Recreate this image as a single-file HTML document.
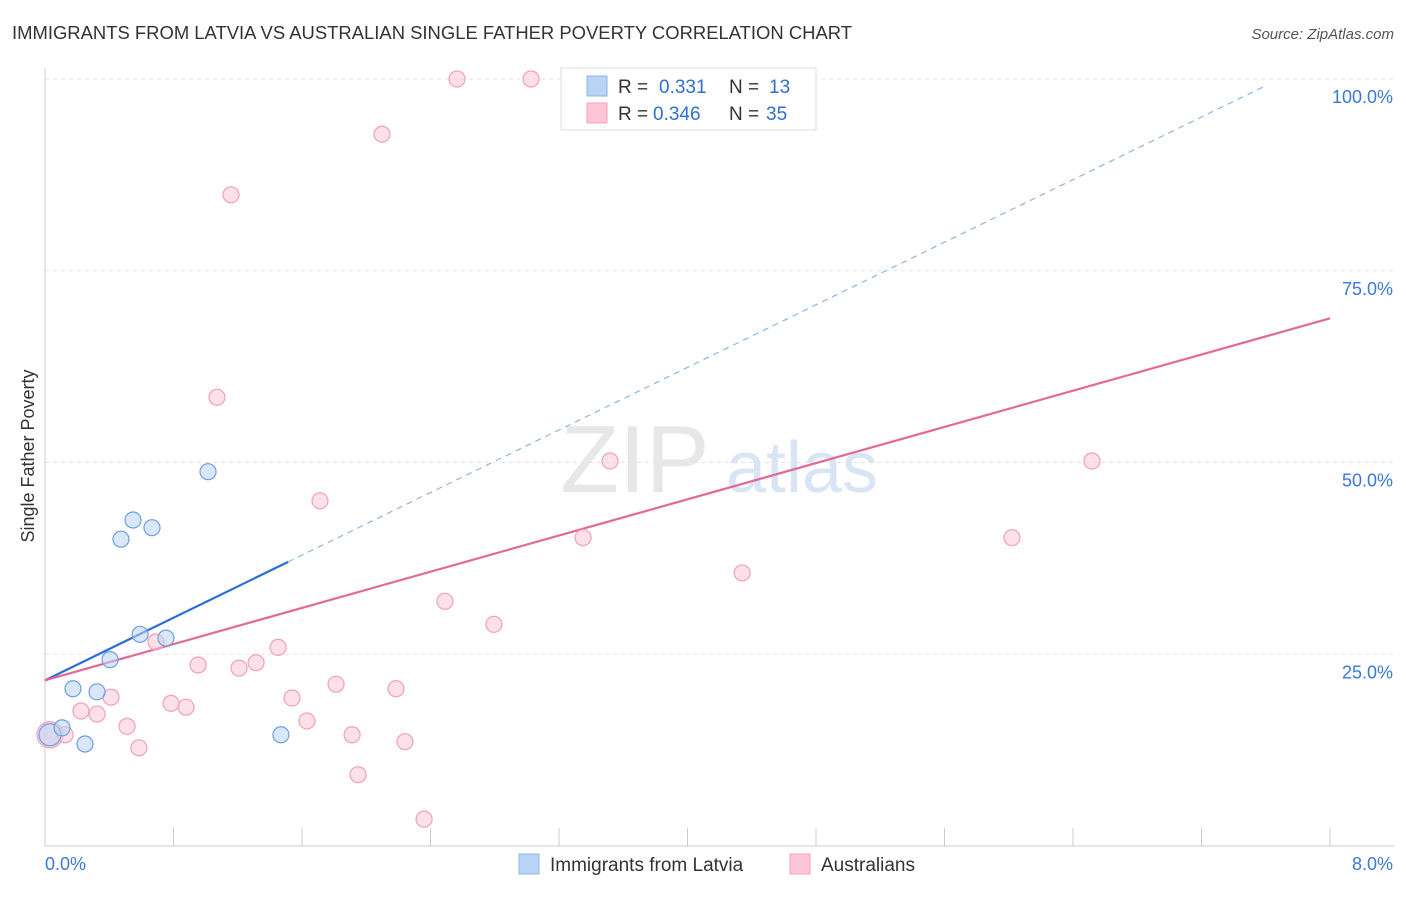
<!DOCTYPE html>
<html><head><meta charset="utf-8"><style>
body{margin:0;background:#fff;font-family:"Liberation Sans",sans-serif}
svg text{font-family:"Liberation Sans",sans-serif}
</style></head><body>
<svg id="c" width="1406" height="892" xmlns="http://www.w3.org/2000/svg">
<text x="12" y="39" font-size="18" fill="#333" textLength="840" lengthAdjust="spacingAndGlyphs">IMMIGRANTS FROM LATVIA VS AUSTRALIAN SINGLE FATHER POVERTY CORRELATION CHART</text>
<text x="1394" y="39" font-size="15" fill="#555" font-style="italic" text-anchor="end">Source: ZipAtlas.com</text>
<text x="34" y="456" font-size="18" fill="#333" text-anchor="middle" transform="rotate(-90 34 456)">Single Father Poverty</text>
<g><text x="635" y="492" font-size="96" fill="#ddd" font-family="Liberation Serif" text-anchor="middle" opacity="0.7">ZIP</text><text x="802" y="492" font-size="72" fill="#c9daf0" text-anchor="middle" opacity="0.7">atlas</text></g>
<g id="grid"></g><g id="axes"></g><g id="lines"></g><g id="pts"></g>
<g>
<rect x="561" y="68" width="255" height="62" fill="#fff" stroke="#ddd"/>
<rect x="587" y="76" width="20" height="20" fill="#b9d3f5" stroke="#8fb4e8"/>
<rect x="587" y="103" width="20" height="20" fill="#fcc6d6" stroke="#f2a3bb"/>
<text x="618" y="93" font-size="19" fill="#333">R = </text><text x="659" y="93" font-size="19" fill="#2f6fd0">0.331</text>
<text x="729" y="93" font-size="19" fill="#333">N = </text><text x="769" y="93" font-size="19" fill="#2f6fd0">13</text>
<text x="618" y="120" font-size="19" fill="#333">R = </text><text x="653" y="120" font-size="19" fill="#2f6fd0">0.346</text>
<text x="729" y="120" font-size="19" fill="#333">N = </text><text x="766" y="120" font-size="19" fill="#2f6fd0">35</text>
</g>
<g>
<rect x="519" y="854" width="20" height="20" fill="#b9d3f5" stroke="#8fb4e8"/>
<text x="550" y="871" font-size="19" fill="#333">Immigrants from Latvia</text>
<rect x="790" y="854" width="20" height="20" fill="#fcc6d6" stroke="#f2a3bb"/>
<text x="821" y="871" font-size="19" fill="#333">Australians</text>
</g>
</svg>
<script>
const blueX=[0.031,0.106,0.174,0.249,0.324,0.405,0.473,0.548,0.592,0.666,0.753,1.015,1.469];
const blueY=[14.5,15.4,20.5,13.3,20.1,24.3,40.0,42.5,27.6,41.5,27.1,48.8,14.5];
const pinkX=[0.031,0.125,0.224,0.324,0.411,0.511,0.585,0.691,0.785,0.878,0.953,1.071,1.158,1.208,1.314,1.451,1.538,1.631,1.712,1.812,1.912,1.949,2.098,2.185,2.241,2.360,2.490,2.565,2.795,3.026,3.350,3.518,4.340,6.020,6.518];
const pinkY=[14.5,14.5,17.6,17.2,19.4,15.6,12.8,26.6,18.6,18.1,23.6,58.5,84.9,23.2,23.9,25.9,19.3,16.3,45.0,21.1,14.5,9.3,92.8,20.5,13.6,3.5,31.9,100,28.9,100,40.2,50.2,35.6,40.2,50.2];
const yTicks=[25,50,75,100];
const yTickLabels=["25.0%","50.0%","75.0%","100.0%"];
const xTickLabels=["0.0%","8.0%"];
const blueFit=[21.6,10.2];
const pinkFit=[21.6,5.9];
const sx=v=>45+v/8*1285, sy=v=>846-v/100*767;
const NS="http://www.w3.org/2000/svg";
function mk(t,a,p){const e=document.createElementNS(NS,t);for(const k in a)e.setAttribute(k,a[k]);p.appendChild(e);return e;}
const g=document.getElementById('grid'),ax=document.getElementById('axes'),ln=document.getElementById('lines'),pt=document.getElementById('pts');
yTicks.forEach((v,i)=>{
 const l=mk('line',{x1:45,x2:1394,y1:sy(v),y2:sy(v),stroke:'#e3e3e3','stroke-dasharray':'4,4'},g);
 
 
 const t=mk('text',{x:1393,y:sy(v)+24,'font-size':18,fill:'#3b78d8','text-anchor':'end'},ax);
 t.textContent=yTickLabels[i];
 
 
});
const xa=mk('line',{x1:45,x2:1394,y1:846,y2:846,stroke:'#ccc'},ax);


const ya=mk('line',{x1:45,x2:45,y1:68,y2:846,stroke:'#ccc'},ax);


for(let i=1;i<=10;i++){const tk=mk('line',{x1:sx(i*0.8),x2:sx(i*0.8),y1:828,y2:846,stroke:'#ccc'},ax);
 
 }
[[xTickLabels[0],45,'start'],[xTickLabels[1],1393,'end']].forEach(([s,x,a])=>{const t=mk('text',{x:x,y:870,'font-size':18,fill:'#3b78d8','text-anchor':a},ax);t.textContent=s;
 
 });
function dot(x,y,f,s,r,name){const c=mk('circle',{cx:sx(x),cy:sy(y),r:r,fill:f,'fill-opacity':0.55,stroke:s,'stroke-width':1.2},pt);
 
 }
pinkX.forEach((x,i)=>dot(x,pinkY[i],'#fcc6d6','#f0a0b8',i==0?13:8,'australians-point'));
blueX.forEach((x,i)=>dot(x,blueY[i],'#b9d3f5','#6f9fe0',i==0?11:8,'latvia-point'));
const bl=mk('line',{x1:sx(0),y1:sy(blueFit[0]),x2:sx(1.514),y2:sy(blueFit[0]+blueFit[1]*1.514),stroke:'#2a6fd6','stroke-width':2.2},ln);


const bd=mk('line',{x1:sx(1.514),y1:sy(blueFit[0]+blueFit[1]*1.514),x2:sx(7.6),y2:sy(blueFit[0]+blueFit[1]*7.6),stroke:'#8fb4e8','stroke-width':1.2,'stroke-dasharray':'6,5'},ln);


const pl=mk('line',{x1:sx(0),y1:sy(pinkFit[0]),x2:sx(8),y2:sy(pinkFit[0]+pinkFit[1]*8),stroke:'#e36a96','stroke-width':2.2},ln);


</script>
</body></html>
